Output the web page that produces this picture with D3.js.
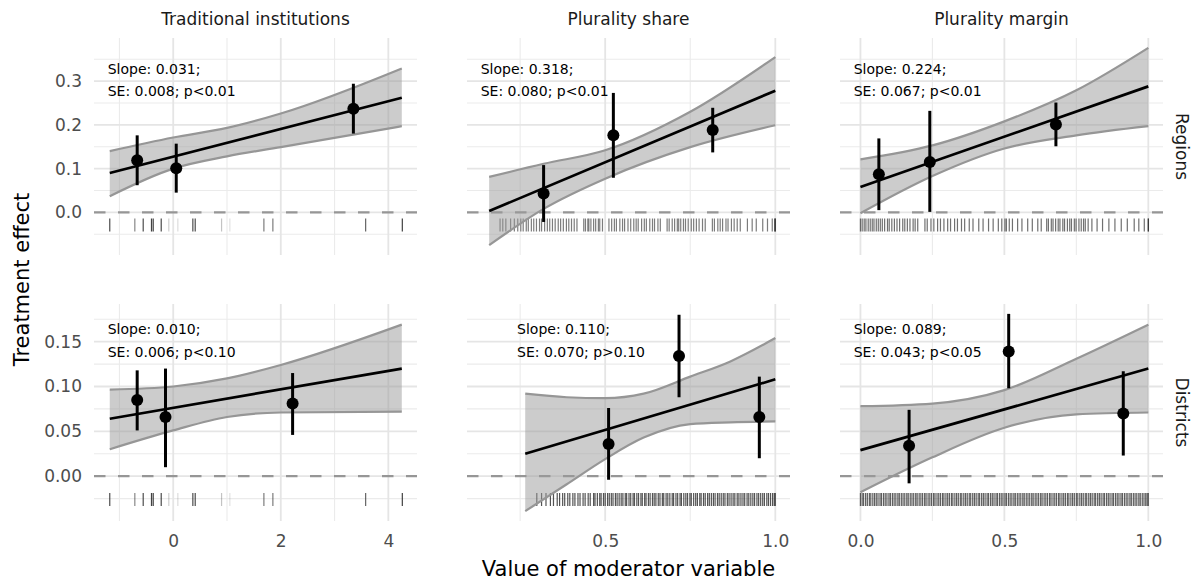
<!DOCTYPE html>
<html>
<head>
<meta charset="utf-8">
<script src="https://cdn.jsdelivr.net/npm/d3@7"></script>
<style>
body { margin: 0; background: #fff; }
text { font-family: "DejaVu Sans", sans-serif; }
</style>
</head>
<body>
<div id="chart"></div>
<script>
const width = 1198;
const height = 581;

const columns = ["Traditional institutions", "Plurality share", "Plurality margin"];
const rows = ["Regions", "Districts"];

// panels in row order: Regions x 3 columns, then Districts x 3 columns
const slopeLabels = ["Slope: 0.031;", "Slope: 0.318;", "Slope: 0.224;", "Slope: 0.010;", "Slope: 0.110;", "Slope: 0.089;"];
const seLabels = ["SE: 0.008; p<0.01", "SE: 0.080; p<0.01", "SE: 0.067; p<0.01", "SE: 0.006; p<0.10", "SE: 0.070; p>0.10", "SE: 0.043; p<0.05"];
const noteX = [-1.2, 0.137, -0.02, -1.2, 0.244, -0.02];
const noteY = [0.317, 0.317, 0.317, 0.158, 0.158, 0.158];

// binned estimates with 95% intervals
const binX = [
  [-0.67, 0.056, 3.35],
  [0.319, 0.524, 0.816],
  [0.064, 0.241, 0.679],
  [-0.67, -0.143, 2.22],
  [0.510, 0.717, 0.953],
  [0.169, 0.515, 0.913]
];
const binEst = [
  [0.119, 0.101, 0.237],
  [0.043, 0.176, 0.188],
  [0.087, 0.115, 0.201],
  [0.085, 0.066, 0.081],
  [0.036, 0.134, 0.066],
  [0.034, 0.139, 0.070]
];
const binLo = [
  [0.062, 0.045, 0.180],
  [-0.022, 0.079, 0.137],
  [0.005, 0.001, 0.151],
  [0.051, 0.010, 0.046],
  [-0.004, 0.088, 0.020],
  [-0.008, 0.098, 0.023]
];
const binHi = [
  [0.176, 0.157, 0.294],
  [0.108, 0.273, 0.239],
  [0.169, 0.232, 0.251],
  [0.118, 0.120, 0.115],
  [0.076, 0.180, 0.111],
  [0.074, 0.181, 0.117]
];

// linear fit end points
const lineX = [[-1.18, 4.25], [0.159, 1.0], [0, 1], [-1.18, 4.25], [0.265, 1.0], [0, 1]];
const lineY = [[0.090, 0.262], [0.003, 0.278], [0.058, 0.288], [0.064, 0.120], [0.025, 0.108], [0.029, 0.120]];

// confidence band of the fit
const bandX = [
  [-1.18, 0, 1, 2, 4.25],
  [0.159, 0.319, 0.5, 0.75, 1.0],
  [0, 0.25, 0.5, 0.75, 1.0],
  [-1.18, 0, 1, 2, 4.25],
  [0.265, 0.387, 0.5, 0.613, 0.75, 0.868, 1.0],
  [0, 0.25, 0.5, 0.75, 1.0]
];
const bandLo = [
  [0.037, 0.100, 0.128, 0.149, 0.197],
  [-0.075, 0.008, 0.077, 0.149, 0.199],
  [-0.002, 0.083, 0.146, 0.176, 0.197],
  [0.030, 0.051, 0.066, 0.071, 0.072],
  [-0.039, -0.009, 0.019, 0.043, 0.058, 0.060, 0.061],
  [-0.018, 0.021, 0.054, 0.069, 0.071]
];
const bandHi = [
  [0.140, 0.171, 0.193, 0.226, 0.329],
  [0.081, 0.111, 0.142, 0.230, 0.355],
  [0.121, 0.153, 0.208, 0.279, 0.376],
  [0.0965, 0.100, 0.109, 0.124, 0.169],
  [0.092, 0.088, 0.087, 0.092, 0.111, 0.128, 0.154],
  [0.078, 0.081, 0.096, 0.131, 0.169]
];

// rug of observed moderator values
const rugTrad = [-1.18, -0.714, -0.558, -0.404, -0.372, -0.223, -0.082, 0.086, 0.365, 0.409, 0.899, 1.053, 1.686, 1.853, 3.578, 4.26];
const rugTradWeight = [0.75, 0.5, 0.75, 0.8, 0.8, 0.75, 0.2, 0.15, 0.75, 0.75, 0.25, 0.12, 0.55, 0.55, 0.65, 0.8];
const rugShareRegions = [0.191, 0.199, 0.208, 0.222, 0.233, 0.243, 0.252, 0.259, 0.268, 0.274, 0.283, 0.290, 0.298, 0.307, 0.313, 0.322, 0.330, 0.337, 0.345, 0.353, 0.362, 0.369, 0.377, 0.386, 0.393, 0.401, 0.409, 0.417, 0.437, 0.442, 0.449, 0.452, 0.458, 0.466, 0.472, 0.480, 0.484, 0.492, 0.511, 0.519, 0.527, 0.533, 0.543, 0.551, 0.557, 0.567, 0.575, 0.584, 0.591, 0.597, 0.607, 0.615, 0.621, 0.631, 0.639, 0.645, 0.655, 0.662, 0.682, 0.688, 0.697, 0.704, 0.712, 0.716, 0.722, 0.730, 0.736, 0.744, 0.753, 0.760, 0.768, 0.776, 0.786, 0.794, 0.815, 0.821, 0.831, 0.838, 0.845, 0.855, 0.861, 0.871, 0.879, 0.888, 0.897, 0.918, 0.932, 0.944, 0.963, 0.977, 0.991, 0.998, 1.0, 1.0];
const rugMarginRegions = [0.000, 0.006, 0.013, 0.019, 0.027, 0.034, 0.041, 0.047, 0.055, 0.062, 0.069, 0.076, 0.084, 0.094, 0.100, 0.109, 0.118, 0.127, 0.136, 0.147, 0.154, 0.163, 0.172, 0.183, 0.190, 0.199, 0.224, 0.232, 0.245, 0.255, 0.268, 0.278, 0.290, 0.303, 0.313, 0.327, 0.337, 0.351, 0.362, 0.378, 0.391, 0.411, 0.426, 0.445, 0.461, 0.479, 0.491, 0.502, 0.507, 0.517, 0.528, 0.546, 0.561, 0.581, 0.597, 0.616, 0.628, 0.647, 0.653, 0.663, 0.669, 0.678, 0.687, 0.693, 0.703, 0.709, 0.719, 0.727, 0.733, 0.743, 0.749, 0.759, 0.767, 0.775, 0.781, 0.791, 0.804, 0.822, 0.841, 0.863, 0.884, 0.906, 0.927, 0.951, 0.967, 0.986, 1.0, 1.0];
const rugShareDistricts = [0.299, 0.313, 0.326, 0.339, 0.348, 0.359, 0.366, 0.375, 0.381, 0.390, 0.396, 0.405, 0.411, 0.420, 0.426, 0.435, 0.441, 0.450, 0.456, 0.466, 0.470, 0.477, 0.484, 0.488, 0.495, 0.500, 0.507, 0.512, 0.518, 0.523, 0.530, 0.535, 0.541, 0.547, 0.552, 0.559, 0.563, 0.570, 0.575, 0.582, 0.586, 0.593, 0.598, 0.605, 0.609, 0.616, 0.620, 0.627, 0.632, 0.639, 0.644, 0.649, 0.656, 0.661, 0.668, 0.672, 0.679, 0.684, 0.690, 0.697, 0.701, 0.708, 0.713, 0.720, 0.724, 0.731, 0.737, 0.742, 0.749, 0.753, 0.760, 0.766, 0.771, 0.778, 0.782, 0.789, 0.794, 0.801, 0.806, 0.812, 0.818, 0.823, 0.830, 0.835, 0.841, 0.847, 0.852, 0.859, 0.864, 0.870, 0.876, 0.881, 0.888, 0.893, 0.899, 0.905, 0.910, 0.917, 0.922, 0.928, 0.934, 0.939, 0.946, 0.951, 0.957, 0.963, 0.968, 0.975, 0.980, 0.986, 0.992, 0.997, 1.0];
const rugMarginDistricts = [0.000, 0.006, 0.011, 0.018, 0.024, 0.031, 0.036, 0.043, 0.049, 0.055, 0.061, 0.068, 0.073, 0.080, 0.086, 0.092, 0.099, 0.104, 0.111, 0.117, 0.123, 0.130, 0.135, 0.142, 0.148, 0.154, 0.161, 0.166, 0.173, 0.179, 0.185, 0.192, 0.197, 0.204, 0.210, 0.216, 0.223, 0.228, 0.235, 0.241, 0.247, 0.254, 0.259, 0.266, 0.272, 0.278, 0.285, 0.290, 0.297, 0.303, 0.309, 0.316, 0.321, 0.328, 0.334, 0.340, 0.347, 0.352, 0.359, 0.365, 0.371, 0.378, 0.383, 0.390, 0.396, 0.402, 0.409, 0.414, 0.421, 0.427, 0.433, 0.440, 0.445, 0.452, 0.458, 0.464, 0.471, 0.476, 0.483, 0.489, 0.495, 0.502, 0.507, 0.514, 0.520, 0.526, 0.533, 0.538, 0.545, 0.551, 0.557, 0.564, 0.569, 0.576, 0.582, 0.588, 0.595, 0.600, 0.607, 0.613, 0.619, 0.626, 0.631, 0.638, 0.644, 0.650, 0.657, 0.662, 0.669, 0.675, 0.681, 0.688, 0.693, 0.700, 0.706, 0.712, 0.719, 0.724, 0.731, 0.737, 0.743, 0.750, 0.755, 0.762, 0.768, 0.774, 0.781, 0.786, 0.793, 0.799, 0.805, 0.812, 0.817, 0.824, 0.830, 0.836, 0.843, 0.848, 0.855, 0.861, 0.867, 0.874, 0.879, 0.886, 0.892, 0.898, 0.905, 0.910, 0.917, 0.923, 0.929, 0.936, 0.941, 0.948, 0.954, 0.960, 0.967, 0.972, 0.979, 0.985, 0.991, 0.996, 1.0];
const rugY = [-0.029, -0.026];

// axis ticks
const xTicks = [[0, 2, 4], [0.5, 1.0], [0, 0.5, 1.0]];
const xMinor = [[-1, 1, 3], [0.25, 0.75], [0.25, 0.75]];
const yTicks = [[0, 0.1, 0.2, 0.3], [0, 0.05, 0.1, 0.15]];
const yMinor = [[-0.05, 0.05, 0.15, 0.25, 0.35], [-0.025, 0.025, 0.075, 0.125, 0.175]];

// layout
const panelLeft = [94, 467, 840];
const panelTop = [38, 304];
const panelW = 323;
const panelH = 217;

const rugByPanel = [rugTrad, rugShareRegions, rugMarginRegions, rugTrad, rugShareDistricts, rugMarginDistricts];
const rugOpacity = [null, 0.55, 0.6, null, 0.72, 0.68];
const fmtX = [d3.format("d"), d3.format(".1f"), d3.format(".1f")];
const fmtY = [d3.format(".1f"), d3.format(".2f")];

function expand(ext) {
  const pad = (ext[1] - ext[0]) * 0.05;
  return [ext[0] - pad, ext[1] + pad];
}

const xScales = columns.map((col, c) => {
  const vals = [].concat(bandX[c], bandX[c + 3], rugByPanel[c], rugByPanel[c + 3], [noteX[c], noteX[c + 3]]);
  return d3.scaleLinear().domain(expand(d3.extent(vals))).range([panelLeft[c], panelLeft[c] + panelW]);
});
const yScales = rows.map((row, r) => {
  const idx = [r * 3, r * 3 + 1, r * 3 + 2];
  const vals = [].concat(...idx.map(i => bandLo[i]), ...idx.map(i => bandHi[i]), ...idx.map(i => binLo[i]), ...idx.map(i => binHi[i]));
  return d3.scaleLinear().domain(expand(d3.extent(vals))).range([panelTop[r] + panelH, panelTop[r]]);
});

const svg = d3.select("#chart").append("svg")
  .attr("width", width)
  .attr("height", height);

rows.forEach((row, r) => {
  columns.forEach((col, c) => {
    const i = r * 3 + c;
    const x = xScales[c];
    const y = yScales[r];
    const x0 = panelLeft[c], x1 = panelLeft[c] + panelW;
    const y0 = panelTop[r], y1 = panelTop[r] + panelH;
    const g = svg.append("g");

    // grid
    g.selectAll(".hminor").data(yMinor[r]).enter().append("line")
      .attr("x1", x0).attr("x2", x1)
      .attr("y1", d => y(d)).attr("y2", d => y(d))
      .attr("stroke", "#ebebeb").attr("stroke-width", 1.1);
    g.selectAll(".vminor").data(xMinor[c]).enter().append("line")
      .attr("x1", d => x(d)).attr("x2", d => x(d))
      .attr("y1", y0).attr("y2", y1)
      .attr("stroke", "#ebebeb").attr("stroke-width", 1.1);
    g.selectAll(".hmajor").data(yTicks[r]).enter().append("line")
      .attr("x1", x0).attr("x2", x1)
      .attr("y1", d => y(d)).attr("y2", d => y(d))
      .attr("stroke", "#e5e5e5").attr("stroke-width", 1.8);
    g.selectAll(".vmajor").data(xTicks[c]).enter().append("line")
      .attr("x1", d => x(d)).attr("x2", d => x(d))
      .attr("y1", y0).attr("y2", y1)
      .attr("stroke", "#e5e5e5").attr("stroke-width", 1.8);

    // zero line
    g.append("line")
      .attr("x1", x0).attr("x2", x1)
      .attr("y1", y(0)).attr("y2", y(0))
      .attr("stroke", "#969696").attr("stroke-width", 2.4)
      .attr("stroke-dasharray", "11.5,12.5");

    // rug
    g.selectAll(".rug").data(rugByPanel[i]).enter().append("line")
      .attr("x1", d => x(d)).attr("x2", d => x(d))
      .attr("y1", y(rugY[r]) - 6.5).attr("y2", y(rugY[r]) + 6.5)
      .attr("stroke", "#111").attr("stroke-width", 1.2)
      .attr("stroke-opacity", (d, k) => c === 0 ? rugTradWeight[k] : rugOpacity[i]);

    // confidence band
    const band = bandX[i].map((v, k) => ({ x: v, lo: bandLo[i][k], hi: bandHi[i][k] }));
    g.append("path")
      .attr("d", d3.area().x(d => x(d.x)).y0(d => y(d.lo)).y1(d => y(d.hi)).curve(d3.curveMonotoneX)(band))
      .attr("fill", "#999").attr("fill-opacity", 0.5);
    ["lo", "hi"].forEach(k => {
      g.append("path")
        .attr("d", d3.line().x(d => x(d.x)).y(d => y(d[k])).curve(d3.curveMonotoneX)(band))
        .attr("fill", "none").attr("stroke", "#969696").attr("stroke-width", 2.2);
    });

    // fitted line
    g.append("line")
      .attr("x1", x(lineX[i][0])).attr("x2", x(lineX[i][1]))
      .attr("y1", y(lineY[i][0])).attr("y2", y(lineY[i][1]))
      .attr("stroke", "#000").attr("stroke-width", 2.7);

    // binned estimates
    g.selectAll(".bar").data(binX[i]).enter().append("line")
      .attr("x1", d => x(d)).attr("x2", d => x(d))
      .attr("y1", (d, k) => y(binLo[i][k])).attr("y2", (d, k) => y(binHi[i][k]))
      .attr("stroke", "#000").attr("stroke-width", 3);
    g.selectAll(".pt").data(binX[i]).enter().append("circle")
      .attr("cx", d => x(d)).attr("cy", (d, k) => y(binEst[i][k]))
      .attr("r", 6).attr("fill", "#000");

    // slope note
    const nx = x(noteX[i]) - 1;
    const ny = y(noteY[i]);
    g.append("text").attr("x", nx).attr("y", ny)
      .attr("font-size", 14).attr("fill", "#000").text(slopeLabels[i]);
    g.append("text").attr("x", nx).attr("y", ny + 22.7)
      .attr("font-size", 14).attr("fill", "#000").text(seLabels[i]);
  });
});

// axes
columns.forEach((col, c) => {
  svg.append("g")
    .attr("transform", `translate(0,${panelTop[1] + panelH})`)
    .call(d3.axisBottom(xScales[c]).tickValues(xTicks[c]).tickFormat(fmtX[c]).tickSize(0).tickPadding(14))
    .call(g => g.select(".domain").remove())
    .selectAll("text")
    .attr("font-family", "DejaVu Sans, sans-serif")
    .attr("font-size", 17).attr("fill", "#4d4d4d");

  svg.append("text")
    .attr("x", panelLeft[c] + panelW / 2).attr("y", 25)
    .attr("text-anchor", "middle")
    .attr("font-size", 17).attr("fill", "#1a1a1a")
    .text(col);
});

rows.forEach((row, r) => {
  svg.append("g")
    .attr("transform", `translate(${panelLeft[0]},0)`)
    .call(d3.axisLeft(yScales[r]).tickValues(yTicks[r]).tickFormat(fmtY[r]).tickSize(0).tickPadding(12))
    .call(g => g.select(".domain").remove())
    .selectAll("text")
    .attr("font-family", "DejaVu Sans, sans-serif")
    .attr("font-size", 17).attr("fill", "#4d4d4d");

  const cy = panelTop[r] + panelH / 2;
  svg.append("text")
    .attr("transform", `translate(1176,${cy}) rotate(90)`)
    .attr("text-anchor", "middle")
    .attr("font-size", 17).attr("fill", "#1a1a1a")
    .text(row);
});

svg.append("text")
  .attr("x", (panelLeft[0] + panelLeft[2] + panelW) / 2).attr("y", 575.5)
  .attr("text-anchor", "middle")
  .attr("font-size", 21).attr("fill", "#000")
  .text("Value of moderator variable");

svg.append("text")
  .attr("transform", `translate(28.5,${(panelTop[0] + panelTop[1] + panelH) / 2}) rotate(-90)`)
  .attr("text-anchor", "middle")
  .attr("font-size", 21).attr("fill", "#000")
  .text("Treatment effect");
</script>
</body>
</html>
